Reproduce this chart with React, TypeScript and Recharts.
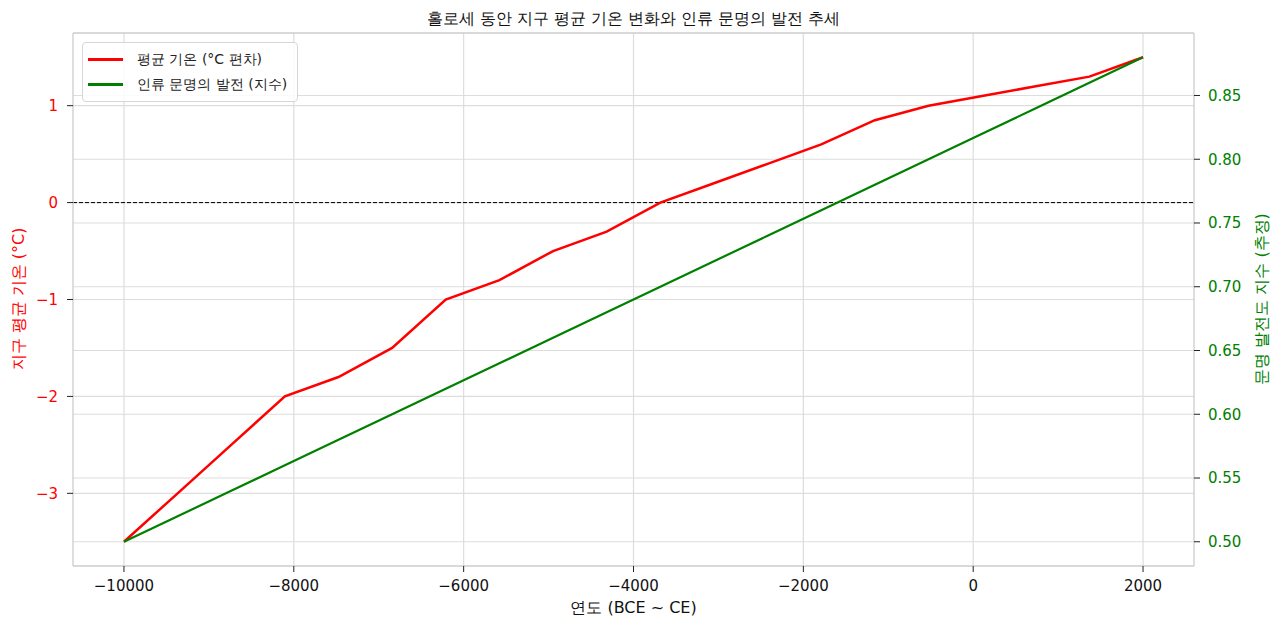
import {
  CartesianGrid,
  ComposedChart,
  Legend,
  Line,
  ReferenceLine,
  XAxis,
  YAxis,
} from "recharts";

const years = [
  -10000, -9368, -8737, -8105, -7474, -6842, -6211, -5579, -4947, -4316,
  -3684, -3053, -2421, -1789, -1158, -526, 105, 737, 1368, 2000,
];
const tempAnomaly = [
  -3.5, -3.0, -2.5, -2.0, -1.8, -1.5, -1.0, -0.8, -0.5, -0.3,
  0.0, 0.2, 0.4, 0.6, 0.85, 1.0, 1.1, 1.2, 1.3, 1.5,
];
const civIndex = [
  0.5, 0.52, 0.54, 0.56, 0.58, 0.6, 0.62, 0.64, 0.66, 0.68,
  0.7, 0.72, 0.74, 0.76, 0.78, 0.8, 0.82, 0.84, 0.86, 0.88,
];

const xTicks = [-10000, -8000, -6000, -4000, -2000, 0, 2000];
const leftTicks = [-3, -2, -1, 0, 1];
const rightTicks = [0.5, 0.55, 0.6, 0.65, 0.7, 0.75, 0.8, 0.85];

const title = "홀로세 동안 지구 평균 기온 변화와 인류 문명의 발전 추세";
const tempLabel = "평균 기온 (°C 편차)";
const civLabel = "인류 문명의 발전 (지수)";
const xLabel = "연도 (BCE ~ CE)";
const leftLabel = "지구 평균 기온 (°C)";
const rightLabel = "문명 발전도 지수 (추정)";

const data = years.map((year, i) => ({
  year,
  temp: tempAnomaly[i],
  civ: civIndex[i],
}));

const FONT = "'DejaVu Sans', sans-serif";
const RED = "#ff0000";
const GREEN = "#008000";
const GRID = "#dddddd";
const FRAME = "#cccccc";

const minus = (v: number, digits = 0) =>
  (digits ? v.toFixed(digits) : String(v)).replace("-", "\u2212");

function LegendBox() {
  const rows = [
    { color: RED, label: tempLabel },
    { color: GREEN, label: civLabel },
  ];
  return (
    <div
      style={{
        border: "1px solid #d6d6d6",
        borderRadius: 4,
        background: "rgba(255,255,255,0.85)",
        padding: "4px 10px 4px 5px",
        fontFamily: FONT,
        fontSize: 14,
        color: "#222",
      }}
    >
      {rows.map((r) => (
        <div key={r.label} style={{ display: "flex", alignItems: "center", height: 25 }}>
          <span
            style={{
              display: "inline-block",
              width: 35,
              height: 3,
              background: r.color,
              marginRight: 14,
            }}
          />
          <span>{r.label}</span>
        </div>
      ))}
    </div>
  );
}

export default function App() {
  return (
    <div style={{ position: "relative", width: 1264, height: 615, fontFamily: FONT }}>
      <div
        style={{
          position: "absolute",
          left: 0,
          width: 1251,
          top: 1,
          textAlign: "center",
          fontSize: 16,
          color: "#111",
        }}
      >
        {title}
      </div>
      <ComposedChart
        width={1264}
        height={615}
        data={data}
        margin={{ top: 25, right: 0, left: 0, bottom: 0 }}
      >
        <CartesianGrid yAxisId="left" stroke={GRID} strokeWidth={1.2} horizontalValues={leftTicks} verticalValues={xTicks} />
        <CartesianGrid yAxisId="right" stroke={GRID} strokeWidth={1.2} vertical={false} horizontalValues={rightTicks} />
        <XAxis
          dataKey="year"
          type="number"
          domain={[-10600, 2600]}
          allowDataOverflow
          ticks={xTicks}
          height={57}
          tickSize={6}
          tickMargin={8}
          axisLine={{ stroke: FRAME, strokeWidth: 1.3 }}
          tickLine={{ stroke: "#222" }}
          tickFormatter={(v: number) => minus(v)}
          tick={{ fontSize: 15, fill: "#111", fontFamily: FONT }}
        />
        <YAxis
          yAxisId="left"
          orientation="left"
          domain={[-3.75, 1.75]}
          allowDataOverflow
          ticks={leftTicks}
          width={65}
          tickSize={6}
          tickMargin={9}
          axisLine={{ stroke: FRAME, strokeWidth: 1.3 }}
          tickLine={{ stroke: "#222" }}
          tickFormatter={(v: number) => minus(v)}
          tick={{ fontSize: 15, fill: RED, fontFamily: FONT }}
        />
        <YAxis
          yAxisId="right"
          orientation="right"
          domain={[0.481, 0.899]}
          allowDataOverflow
          ticks={rightTicks}
          width={78}
          tickSize={6}
          tickMargin={8}
          axisLine={{ stroke: FRAME, strokeWidth: 1.3 }}
          tickLine={{ stroke: "#222" }}
          tickFormatter={(v: number) => v.toFixed(2)}
          tick={{ fontSize: 15, fill: GREEN, fontFamily: FONT }}
        />
        <ReferenceLine yAxisId="left" y={1.75} stroke={FRAME} strokeWidth={1.3} />
        <ReferenceLine yAxisId="left" y={0} stroke="#000" strokeWidth={1} strokeDasharray="4 2" />
        <Line
          yAxisId="left"
          dataKey="temp"
          type="linear"
          stroke={RED}
          strokeWidth={2.5}
          dot={false}
          activeDot={false}
          isAnimationActive={false}
        />
        <Line
          yAxisId="right"
          dataKey="civ"
          type="linear"
          stroke={GREEN}
          strokeWidth={2.2}
          dot={false}
          activeDot={false}
          isAnimationActive={false}
        />
        <Legend
          layout="vertical"
          align="center"
          verticalAlign="middle"
          content={() => <LegendBox />}
          wrapperStyle={{ position: "absolute", left: 74, top: 34, width: "auto" }}
        />
      </ComposedChart>
      <div
        style={{
          position: "absolute",
          left: 0,
          width: 1251,
          top: 590,
          textAlign: "center",
          fontSize: 16,
          color: "#111",
        }}
      >
        {xLabel}
      </div>
      <div
        style={{
          position: "absolute",
          left: 11,
          top: 291,
          transform: "translate(-50%, -50%) rotate(-90deg)",
          whiteSpace: "nowrap",
          fontSize: 16,
          color: RED,
        }}
      >
        {leftLabel}
      </div>
      <div
        style={{
          position: "absolute",
          left: 1254,
          top: 291,
          transform: "translate(-50%, -50%) rotate(-90deg)",
          whiteSpace: "nowrap",
          fontSize: 16,
          color: GREEN,
        }}
      >
        {rightLabel}
      </div>
    </div>
  );
}
